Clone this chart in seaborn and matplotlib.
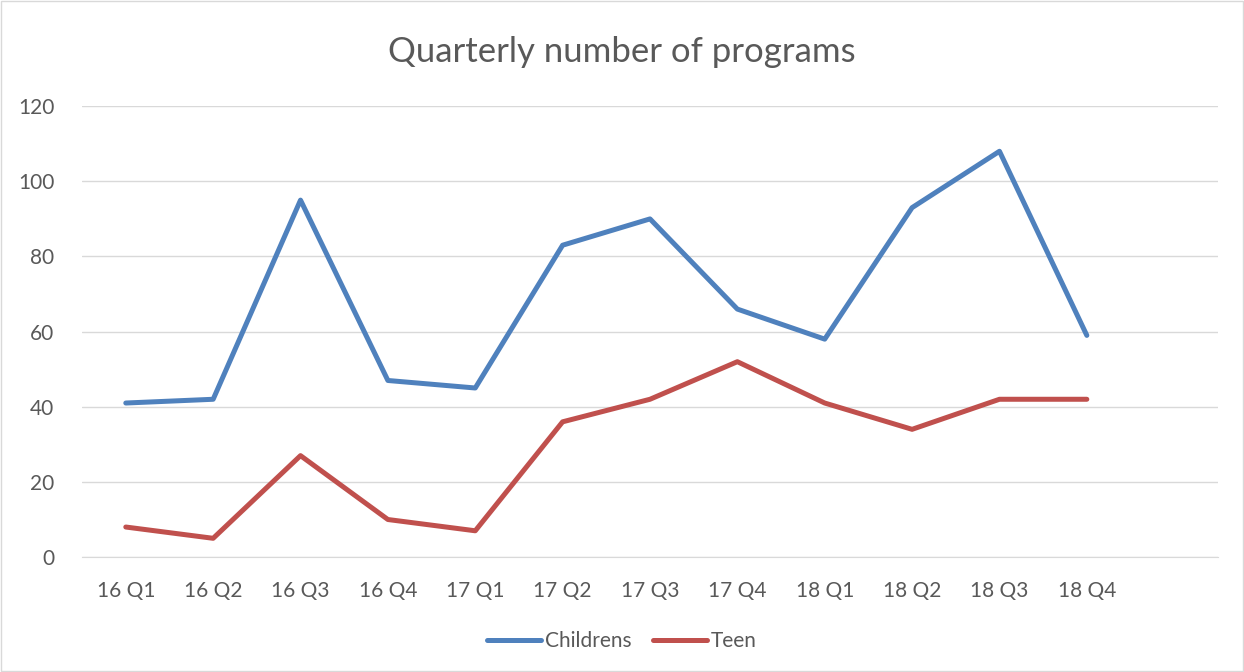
import matplotlib
matplotlib.use("Agg")
import matplotlib.pyplot as plt
import seaborn as sns
import pandas as pd

# chart data
quarters = ["16 Q1", "16 Q2", "16 Q3", "16 Q4", "17 Q1", "17 Q2",
            "17 Q3", "17 Q4", "18 Q1", "18 Q2", "18 Q3", "18 Q4"]
childrens = [41, 42, 95, 47, 45, 83, 90, 66, 58, 93, 108, 59]
teen = [8, 5, 27, 10, 7, 36, 42, 52, 41, 34, 42, 42]

df = pd.DataFrame({
    "pos": list(range(len(quarters))) * 2,
    "value": childrens + teen,
    "series": ["Childrens"] * len(quarters) + ["Teen"] * len(quarters),
})

sns.set_style("white")
plt.rcParams["font.family"] = ["Lato", "DejaVu Sans"]
text_color = "#595959"

fig = plt.figure(figsize=(12.44, 6.72), dpi=100)
ax = fig.add_axes([0.066, 0.171, 0.913, 0.671])

sns.lineplot(
    data=df, x="pos", y="value", hue="series",
    palette={"Childrens": "#4F81BD", "Teen": "#C0504D"},
    linewidth=3.6, ax=ax, legend=False,
)

ax.set_xlim(-0.5, 12.5)
ax.set_ylim(0, 120)
ax.set_yticks(range(0, 121, 20))
ax.set_xticks(range(len(quarters)))
ax.set_xticklabels(quarters)
ax.tick_params(axis="both", colors=text_color, labelsize=15, length=0)
ax.tick_params(axis="x", pad=17)
ax.tick_params(axis="y", pad=20)
ax.grid(axis="y", color="#D9D9D9", linewidth=1)
ax.set_axisbelow(True)
for side in ["top", "right", "left"]:
    ax.spines[side].set_visible(False)
ax.spines["bottom"].set_color("#D9D9D9")
ax.set_xlabel("")
ax.set_ylabel("")

fig.text(0.5, 0.922, "Quarterly number of programs", ha="center", va="center",
         fontsize=25, color=text_color)

handles = [plt.Line2D([], [], color="#4F81BD", linewidth=3.6),
           plt.Line2D([], [], color="#C0504D", linewidth=3.6)]
fig.legend(handles, ["Childrens", "Teen"], loc="center", bbox_to_anchor=(0.5, 0.046),
           ncol=2, frameon=False, fontsize=15, labelcolor=text_color,
           handlelength=2.6, columnspacing=1.0, handletextpad=0.2)

fig.patches.append(plt.Rectangle((0.001, 0.001), 0.998, 0.998, transform=fig.transFigure,
                                 fill=False, edgecolor="#D9D9D9", linewidth=1))

fig.savefig("out.png", dpi=100, facecolor="white")
